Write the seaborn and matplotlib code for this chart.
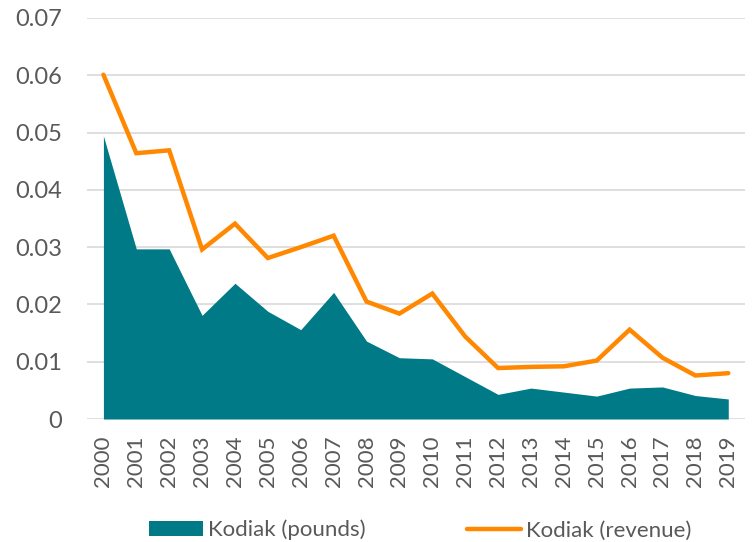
import numpy as np
import pandas as pd
import matplotlib
matplotlib.use("Agg")
import matplotlib.pyplot as plt
import seaborn as sns
from matplotlib.patches import Patch
from matplotlib.lines import Line2D

# ------------------------------------------------------------
# Data
# ------------------------------------------------------------
years = [str(y) for y in range(2000, 2020)]

pounds = [0.0494, 0.0297, 0.0297, 0.0181, 0.0237, 0.0188, 0.0156, 0.0221,
          0.0136, 0.0107, 0.0105, 0.0074, 0.0043, 0.0054, 0.0047, 0.0040,
          0.0054, 0.0056, 0.0041, 0.0035]

revenue = [0.0601, 0.0464, 0.0469, 0.0296, 0.0341, 0.0281, 0.0300, 0.0320,
           0.0205, 0.0184, 0.0219, 0.0144, 0.0089, 0.0091, 0.0092, 0.0102,
           0.0156, 0.0107, 0.0076, 0.0080]

y_ticks = [0, 0.01, 0.02, 0.03, 0.04, 0.05, 0.06, 0.07]
y_tick_labels = ["0", "0.01", "0.02", "0.03", "0.04", "0.05", "0.06", "0.07"]

teal = "#007A87"
orange = "#FF8800"
text_gray = "#595959"

df = pd.DataFrame({"year": years, "pos": range(len(years)),
                   "pounds": pounds, "revenue": revenue})

# ------------------------------------------------------------
# Plot
# ------------------------------------------------------------
sns.set_theme(style="white")
plt.rcParams["font.family"] = ["Lato", "DejaVu Sans"]

fig = plt.figure(figsize=(7.53, 5.42), dpi=100)
ax = fig.add_axes([0.1155, 0.2269, 0.8735, 0.7399])

ax.fill_between(df["pos"], 0, df["pounds"], color=teal, linewidth=0, zorder=2)
sns.lineplot(data=df, x="pos", y="revenue", color=orange, linewidth=3.2,
             ax=ax, zorder=3, solid_capstyle="round", solid_joinstyle="miter")

ax.set_xlim(-0.5, len(years) - 0.5)
ax.set_ylim(0, 0.07)
ax.set_yticks(y_ticks)
ax.set_yticklabels(y_tick_labels)
ax.set_xticks(df["pos"])
ax.set_xticklabels(years, rotation=90)
ax.set_xlabel("")
ax.set_ylabel("")

ax.grid(axis="y", color="#D9D9D9", linewidth=1.2, zorder=0)
ax.set_axisbelow(True)
for s in ["top", "right", "left", "bottom"]:
    ax.spines[s].set_visible(False)
ax.tick_params(axis="both", length=0, labelcolor=text_gray)
ax.tick_params(axis="y", pad=18, labelsize=17)
ax.tick_params(axis="x", pad=12, labelsize=16)

handles = [Patch(facecolor=teal, edgecolor="none"),
           Line2D([0], [0], color=orange, linewidth=3.2, solid_capstyle="round")]
fig.legend(handles, ["Kodiak (pounds)", "Kodiak (revenue)"],
           loc="center", bbox_to_anchor=(0.558, 0.022), ncol=2, frameon=False,
           fontsize=16, labelcolor=text_gray, handlelength=2.4, handleheight=0.63,
           handletextpad=0.22, columnspacing=4.6)

fig.savefig("out.png", dpi=100)
